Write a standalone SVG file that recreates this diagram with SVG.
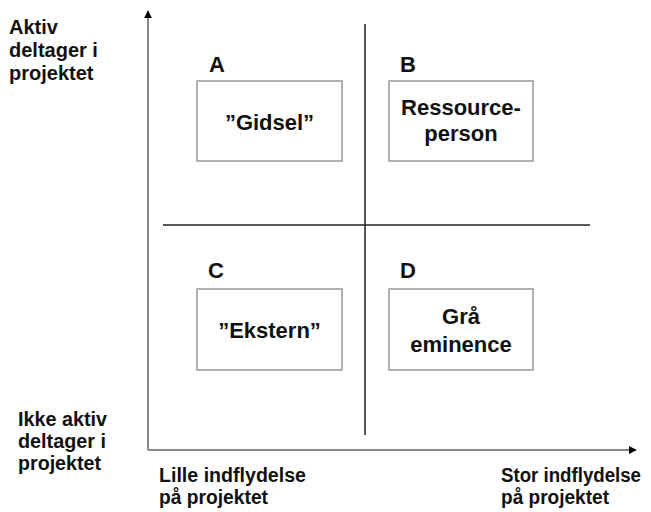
<svg xmlns="http://www.w3.org/2000/svg" width="651" height="512" viewBox="0 0 651 512">
<style>
.t{font-family:"Liberation Sans",Arial,sans-serif;font-weight:bold;fill:#111}
.lbl{font-size:20px}
.q{font-size:22px}
.bx{fill:#fff;stroke:#999;stroke-width:1.5}
.bt{font-size:22px;text-anchor:middle}
.axis{stroke:#888;stroke-width:2;fill:none}
.div{stroke:#222;stroke-width:1.5;fill:none}
</style>
<defs>
<marker id="ah" viewBox="0 0 10 10" refX="9" refY="5" markerWidth="8" markerHeight="8" markerUnits="userSpaceOnUse" orient="auto">
<path d="M0,0 L10,5 L0,10 z" fill="#000"/>
</marker>
</defs>
<g id="connectors">
<line class="axis" x1="148" y1="450" x2="148" y2="11" marker-end="url(#ah)"/>
<line class="axis" x1="148" y1="450" x2="636" y2="450" marker-end="url(#ah)"/>
<line class="div" x1="365" y1="24" x2="365" y2="435"/>
<line class="div" x1="163" y1="225" x2="590" y2="225"/>
</g>
<g id="ylabel-top">
<text class="t lbl" x="9" y="34">Aktiv</text>
<text class="t lbl" x="9" y="57">deltager i</text>
<text class="t lbl" x="9" y="80">projektet</text>
</g>
<g id="ylabel-bottom">
<text class="t lbl" x="18" y="426" textLength="89" lengthAdjust="spacingAndGlyphs">Ikke aktiv</text>
<text class="t lbl" x="18" y="448" textLength="88" lengthAdjust="spacingAndGlyphs">deltager i</text>
<text class="t lbl" x="18" y="470" textLength="83" lengthAdjust="spacingAndGlyphs">projektet</text>
</g>
<g id="xlabel-left">
<text class="t lbl" x="159" y="482" textLength="147" lengthAdjust="spacingAndGlyphs">Lille indflydelse</text>
<text class="t lbl" x="159" y="504" textLength="109" lengthAdjust="spacingAndGlyphs">på projektet</text>
</g>
<g id="xlabel-right">
<text class="t lbl" x="501" y="482" textLength="140" lengthAdjust="spacingAndGlyphs">Stor indflydelse</text>
<text class="t lbl" x="501" y="504" textLength="108" lengthAdjust="spacingAndGlyphs">på projektet</text>
</g>
<g id="nodeA">
<text class="t q" x="209" y="72">A</text>
<rect class="bx" x="197" y="81" width="145" height="80"/>
<text class="t bt" x="269.5" y="130">”Gidsel”</text>
</g>
<g id="nodeB">
<text class="t q" x="400" y="72">B</text>
<rect class="bx" x="389" y="81" width="144" height="80"/>
<text class="t bt" x="461" y="115">Ressource-</text>
<text class="t bt" x="461" y="141">person</text>
</g>
<g id="nodeC">
<text class="t q" x="208" y="278">C</text>
<rect class="bx" x="197" y="289" width="145" height="81"/>
<text class="t bt" x="269.5" y="338">”Ekstern”</text>
</g>
<g id="nodeD">
<text class="t q" x="400" y="278">D</text>
<rect class="bx" x="389" y="289" width="144" height="81"/>
<text class="t bt" x="461" y="324">Grå</text>
<text class="t bt" x="461" y="352">eminence</text>
</g>
</svg>
